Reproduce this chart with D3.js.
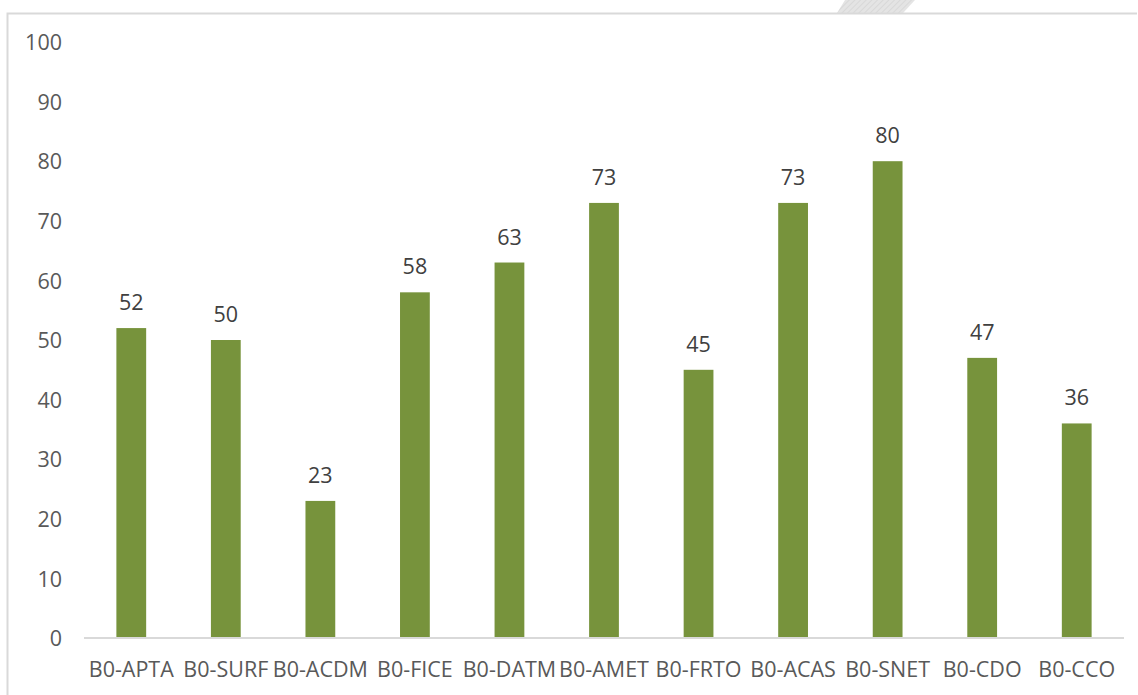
<!DOCTYPE html>
<html><head><meta charset="utf-8">
<script src="https://cdn.jsdelivr.net/npm/d3@7"></script>
<style>
html,body{margin:0;padding:0;background:#fff;}
svg{display:block;}
</style></head>
<body>
<svg id="chart" width="1138" height="695"></svg>
<script>
const categories = ["B0-APTA","B0-SURF","B0-ACDM","B0-FICE","B0-DATM","B0-AMET","B0-FRTO","B0-ACAS","B0-SNET","B0-CDO","B0-CCO"];
const values = [52, 50, 23, 58, 63, 73, 45, 73, 80, 47, 36];
const valueLabels = ["52","50","23","58","63","73","45","73","80","47","36"];
const yTicks = [0,10,20,30,40,50,60,70,80,90,100];

const svg = d3.select("#chart");
const W = 1138, H = 695;
const m = {left: 84, right: 1124, top: 42, bottom: 638};
const font = "'Open Sans', 'Noto Sans', sans-serif";
const textColor = "#595959";
const fs = 21.5;

// decorative hatched shape at top
const defs = svg.append("defs");
const pat = defs.append("pattern").attr("id","hatch").attr("patternUnits","userSpaceOnUse")
  .attr("width",4).attr("height",4).attr("patternTransform","rotate(45)");
pat.append("rect").attr("width",4).attr("height",4).attr("fill","#e4e4e4");
pat.append("line").attr("x1",0).attr("y1",0).attr("x2",0).attr("y2",4).attr("stroke","#d4d4d4").attr("stroke-width",1.5);
svg.append("path").attr("d","M845,0 L915,0 L903,13 L837,13 Z").attr("fill","url(#hatch)");

// outer border
svg.append("path").attr("d",`M7.5,${H} L7.5,13.5 L1137,13.5`).attr("fill","none").attr("stroke","#d9d9d9").attr("stroke-width",2);

const x = d3.scaleBand().domain(categories).range([m.left, m.right]).paddingInner(0.685).paddingOuter(0.3425);
const y = d3.scaleLinear().domain([0,100]).range([m.bottom, m.top]);

// y axis labels
const yAxis = d3.axisLeft(y).tickValues(yTicks).tickSize(0).tickPadding(0);
const gy = svg.append("g").attr("transform","translate(62,0)").call(yAxis);
gy.select(".domain").remove();
gy.selectAll("text").attr("font-family",font).attr("font-size",fs).attr("fill",textColor).attr("dy","0.36em");

// bars
svg.append("g").selectAll("rect").data(values).join("rect")
  .attr("x",(d,i)=>x(categories[i]))
  .attr("width",x.bandwidth())
  .attr("y",d=>y(d))
  .attr("height",d=>y(0)-y(d))
  .attr("fill","#77933C");

// x axis baseline
const xAxis = d3.axisBottom(x).tickSize(0).tickPadding(0);
const gx = svg.append("g").attr("transform",`translate(0,${m.bottom})`).call(xAxis);
gx.select(".domain").attr("stroke","#d9d9d9").attr("stroke-width",2).attr("d",`M${m.left},0H${m.right}`);
gx.selectAll("text").attr("font-family",font).attr("font-size",fs).attr("fill",textColor).attr("dy",null).attr("y",39);

// value labels
svg.append("g").selectAll("text").data(values).join("text")
  .attr("x",(d,i)=>x(categories[i])+x.bandwidth()/2)
  .attr("y",d=>y(d)-18)
  .attr("text-anchor","middle")
  .attr("font-family",font).attr("font-size",fs).attr("fill","#404040")
  .text((d,i)=>valueLabels[i]);
</script>
</body></html>
